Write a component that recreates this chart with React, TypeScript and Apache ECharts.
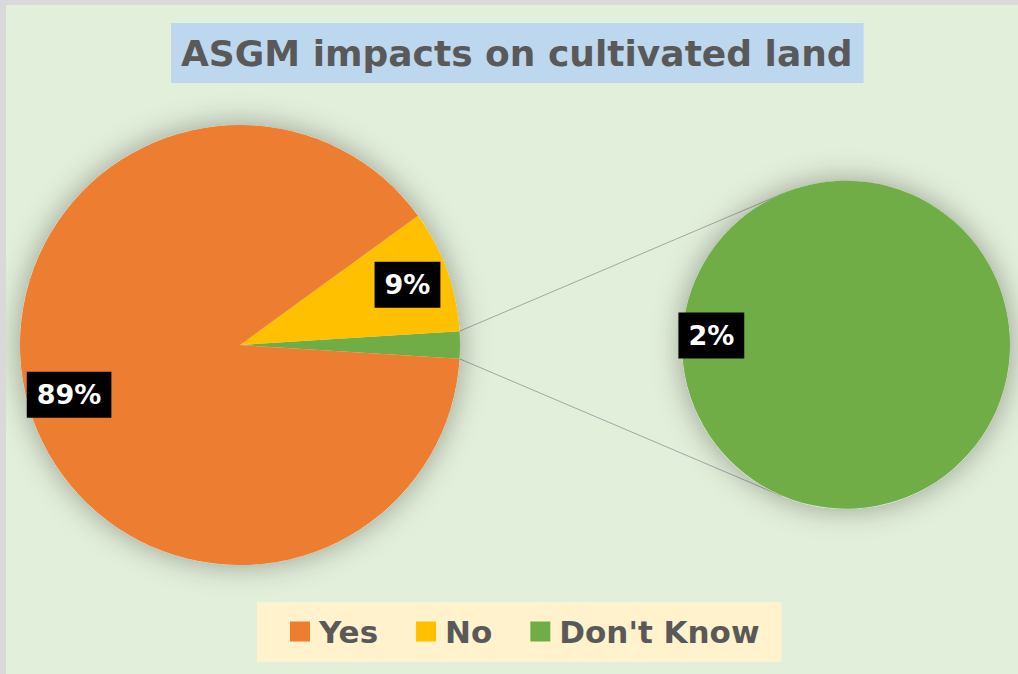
import React, { useEffect, useRef } from "react";
import * as echarts from "echarts";

const categories = ["Yes", "No", "Don't Know"];
const values = [89, 9, 2];
const colors = ["#ED7D31", "#FFC000", "#70AD47"];
const titleText = "ASGM impacts on cultivated land";

const FONT = "DejaVu Sans";
const TEXT_GRAY = "#595959";

export default function App() {
  const ref = useRef<HTMLDivElement>(null);

  useEffect(() => {
    if (!ref.current) return;
    const chart = echarts.init(ref.current, undefined, { renderer: "svg" });

    const total = values.reduce((a, b) => a + b, 0);
    const halfAngle = ((values[2] / total) * 360) / 2; // half of "Don't Know" slice
    const mainC = [234, 340];
    const mainR = 220;
    const subC = [840, 340];
    const subR = 164;

    // main pie ordered so that "Don't Know" faces the secondary pie
    const order = [2, 1, 0];
    const mainData = order.map((i) => ({
      name: categories[i],
      value: values[i],
      itemStyle: { color: colors[i] },
      label: { show: i !== 2 },
    }));

    // connector lines: from slice edges to tangent points on the secondary circle
    const rad = (halfAngle * Math.PI) / 180;
    const p1 = [mainC[0] + mainR * Math.cos(rad), mainC[1] - mainR * Math.sin(rad)];
    const p2 = [mainC[0] + mainR * Math.cos(rad), mainC[1] + mainR * Math.sin(rad)];
    const tangent = (p: number[], sign: number) => {
      const dx = p[0] - subC[0];
      const dy = p[1] - subC[1];
      const d = Math.sqrt(dx * dx + dy * dy);
      const base = Math.atan2(dy, dx);
      const a = base + sign * Math.acos(subR / d);
      return [subC[0] + subR * Math.cos(a), subC[1] + subR * Math.sin(a)];
    };
    const t1 = tangent(p1, 1);
    const t2 = tangent(p2, -1);

    const labelStyle = {
      show: true,
      position: "inside" as const,
      formatter: "{c}%",
      color: "#ffffff",
      fontFamily: FONT,
      fontWeight: "bold" as const,
      fontSize: 27,
      backgroundColor: "#000000",
      padding: [10, 10, 9, 10],
    };

    chart.setOption({
      animation: false,
      backgroundColor: "#E2EFDA",
      title: {
        text: titleText,
        left: 165,
        top: 18,
        backgroundColor: "#BDD7EE",
        padding: [12, 11, 12, 10],
        textStyle: {
          fontFamily: FONT,
          fontWeight: "bold",
          fontSize: 36,
          color: TEXT_GRAY,
        },
      },
      legend: {
        data: categories,
        left: 251,
        top: 597,
        backgroundColor: "#FFF2CC",
        padding: [14, 22, 15, 33],
        itemWidth: 20,
        itemHeight: 20,
        itemGap: 38,
        icon: "rect",
        selectedMode: false,
        textStyle: {
          fontFamily: FONT,
          fontWeight: "bold",
          fontSize: 31,
          color: TEXT_GRAY,
          padding: [0, 0, 0, 4],
        },
      },
      graphic: [
        {
          type: "line",
          z: 0,
          shape: { x1: p1[0], y1: p1[1], x2: t1[0], y2: t1[1] },
          style: { stroke: "#A6A6A6", lineWidth: 1 },
        },
        {
          type: "line",
          z: 0,
          shape: { x1: p2[0], y1: p2[1], x2: t2[0], y2: t2[1] },
          style: { stroke: "#A6A6A6", lineWidth: 1 },
        },
      ],
      series: [
        {
          name: "mainShadow",
          type: "pie",
          silent: true,
          z: 1,
          center: mainC,
          radius: [0, mainR],
          label: { show: false },
          labelLine: { show: false },
          itemStyle: {
            color: "#E2EFDA",
            shadowBlur: 30,
            shadowColor: "rgba(0,0,0,0.35)",
          },
          data: [{ value: 1, name: "" }],
        },
        {
          name: "subShadow",
          type: "pie",
          silent: true,
          z: 1,
          center: subC,
          radius: [0, subR],
          label: { show: false },
          labelLine: { show: false },
          itemStyle: {
            color: "#E2EFDA",
            shadowBlur: 30,
            shadowColor: "rgba(0,0,0,0.35)",
          },
          data: [{ value: 1, name: "" }],
        },
        {
          name: "main",
          type: "pie",
          z: 2,
          center: mainC,
          radius: [0, mainR],
          clockwise: false,
          startAngle: 360 - halfAngle,
          label: { show: false },
          labelLine: { show: false },
          itemStyle: { borderWidth: 0 },
          data: mainData.map((d) => ({ ...d, label: { show: false } })),
        },
        {
          name: "secondary",
          type: "pie",
          z: 2,
          center: subC,
          radius: [0, subR],
          startAngle: 360 - 4,
          label: { show: false },
          labelLine: { show: false },
          data: [
            {
              name: categories[2],
              value: values[2],
              itemStyle: { color: colors[2] },
            },
          ],
        },
        {
          name: "mainLabels",
          type: "pie",
          z: 3,
          silent: true,
          center: mainC,
          radius: [130, mainR],
          clockwise: false,
          startAngle: 360 - halfAngle,
          label: labelStyle,
          labelLine: { show: false },
          itemStyle: { color: "transparent" },
          data: mainData.map((d) => ({ name: d.name, value: d.value, label: d.label })),
        },
        {
          name: "secondaryLabels",
          type: "pie",
          z: 3,
          silent: true,
          center: subC,
          radius: [100, subR],
          startAngle: 360 - 4,
          label: labelStyle,
          labelLine: { show: false },
          itemStyle: { color: "transparent" },
          data: [{ name: categories[2], value: values[2] }],
        },
      ],
    });

    return () => chart.dispose();
  }, []);

  return (
    <div
      style={{
        position: "fixed",
        left: 0,
        top: 0,
        width: 1018,
        height: 674,
        background: "#D9D9D9",
      }}
    >
      <div
        ref={ref}
        style={{ position: "absolute", left: 6, top: 5, width: 1012, height: 669 }}
      />
    </div>
  );
}
